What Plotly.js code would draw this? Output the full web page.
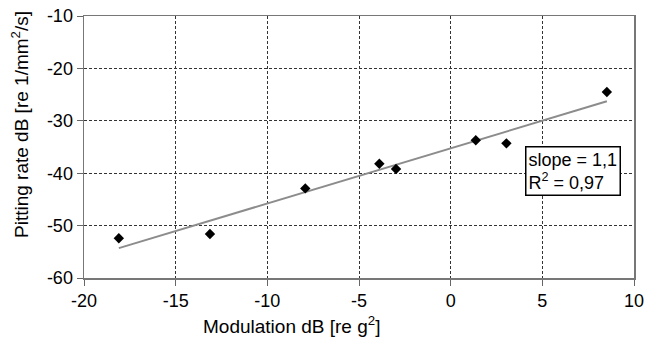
<!DOCTYPE html>
<html><head><meta charset="utf-8">
<script src="https://cdn.plot.ly/plotly-3.0.1.min.js"></script>
<style>html,body{margin:0;padding:0;background:#fff}#chart{width:646px;height:341px}</style>
</head><body><div id="chart"></div>
<script>
const modulation = [-18.1, -13.13, -7.93, -3.89, -2.98, 1.37, 3.04, 8.52];
const pittingRate = [-52.4, -51.6, -42.9, -38.2, -39.2, -33.7, -34.3, -24.5];
const xTicks = [-20, -15, -10, -5, 0, 5, 10];
const yTicks = [-60, -50, -40, -30, -20, -10];
const fitLabel = ["slope = 1,1", "R<sup>2</sup> = 0,97"];
const xTitle = 'Modulation dB [re g<sup>2</sup>]';
const yTitle = 'Pitting rate dB [re 1/mm<sup>2</sup>/s]';

// least-squares fit through the data
const n = modulation.length;
const mx = modulation.reduce((a, b) => a + b, 0) / n;
const my = pittingRate.reduce((a, b) => a + b, 0) / n;
let sxy = 0, sxx = 0;
for (let i = 0; i < n; i++) { sxy += (modulation[i] - mx) * (pittingRate[i] - my); sxx += (modulation[i] - mx) ** 2; }
const slope = sxy / sxx, intercept = my - slope * mx;
const fitX = [Math.min(...modulation), Math.max(...modulation)];
const fitY = fitX.map(x => intercept + slope * x);

const fam = 'Liberation Sans, Arial, sans-serif';
const f = s => ({family: fam, size: s, color: '#000'});
const axisCommon = {showgrid: true, gridcolor: '#333', griddash: '3px,2px', gridwidth: 1,
  zeroline: false, showline: true, linecolor: '#777', linewidth: 1.5, mirror: true,
  ticks: 'outside', ticklen: 6, tickcolor: '#666', tickwidth: 1, tickfont: f(18)};
Plotly.newPlot('chart', [
  {x: fitX, y: fitY, mode: 'lines', line: {color: '#8c8c8c', width: 2}, hoverinfo: 'skip'},
  {x: modulation, y: pittingRate, mode: 'markers', marker: {symbol: 'diamond', size: 8, color: '#000'}}
], {
  width: 646, height: 341, showlegend: false,
  margin: {l: 84, r: 12, t: 16, b: 63},
  paper_bgcolor: '#fff', plot_bgcolor: '#fff',
  font: f(18),
  xaxis: Object.assign({range: [-20, 10], tickvals: xTicks, ticktext: xTicks.map(String)}, axisCommon),
  yaxis: Object.assign({range: [-60, -10], tickvals: yTicks, ticktext: yTicks.map(String)}, axisCommon),
  annotations: [
    {x: 6.65, y: -39.6, xref: 'x', yref: 'y', showarrow: false,
      text: fitLabel.join('<br>'), align: 'left', xanchor: 'center', yanchor: 'middle',
      font: f(18), bgcolor: '#fff', bordercolor: '#000', borderwidth: 1.5, borderpad: 2},
    {x: (291 - 84) / 550, y: -(325 - 278) / 262, xref: 'paper', yref: 'paper', showarrow: false,
      text: xTitle, font: f(19), xanchor: 'center', yanchor: 'middle'},
    {x: (20 - 84) / 550, y: (278 - 125) / 262, xref: 'paper', yref: 'paper', showarrow: false,
      text: yTitle, font: f(19), textangle: -90, xanchor: 'center', yanchor: 'middle'}
  ]
}, {displayModeBar: false, staticPlot: true});
</script></body></html>
